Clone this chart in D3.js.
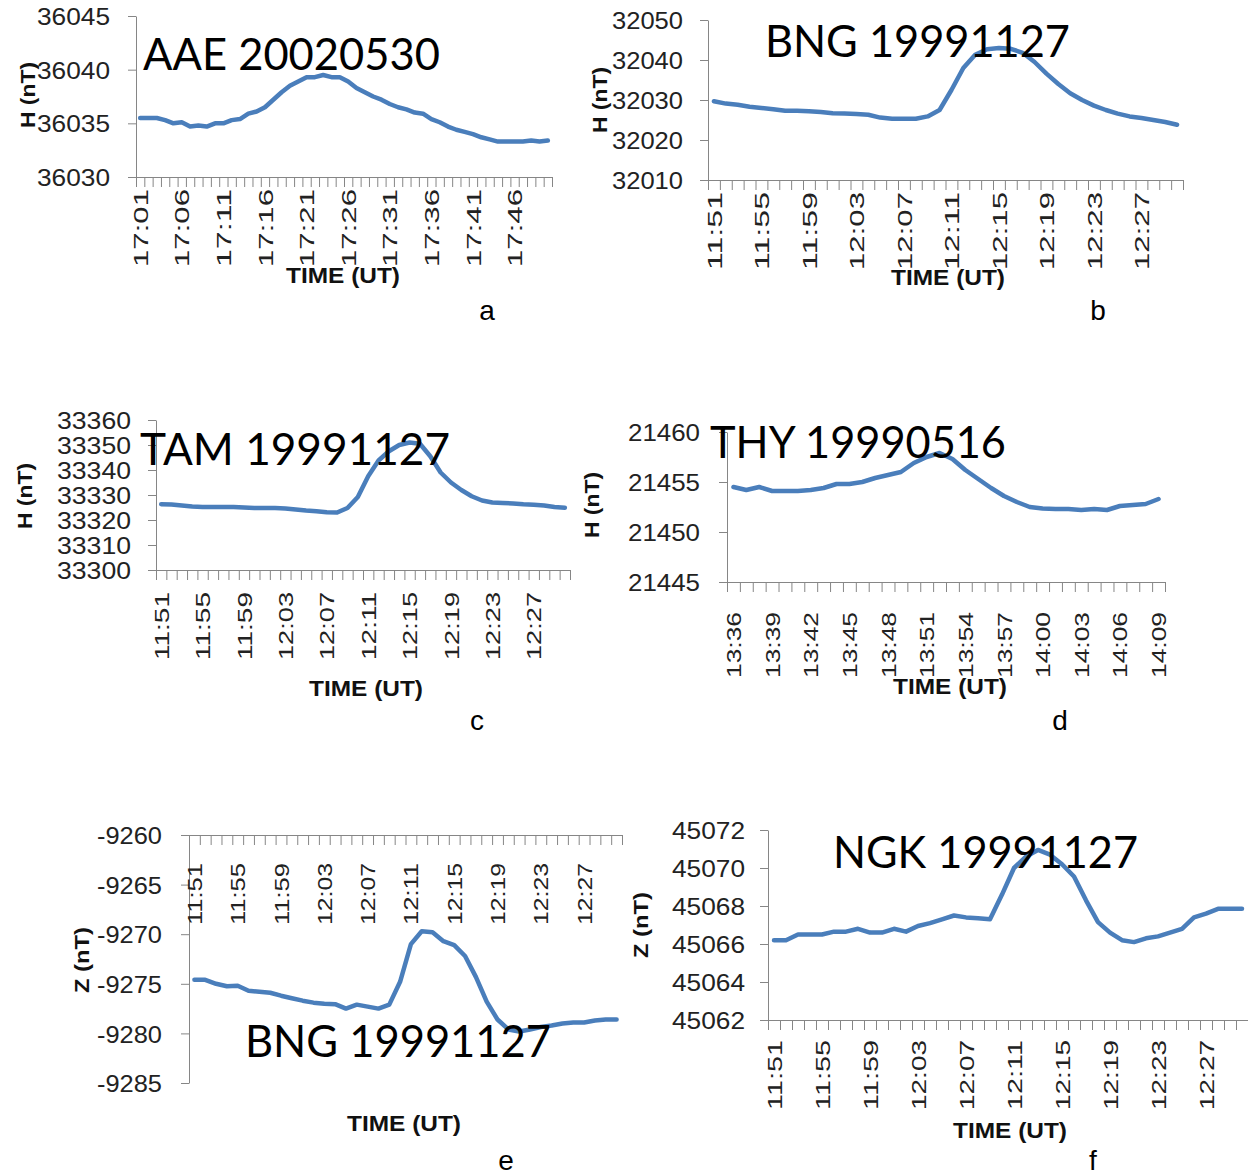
<!DOCTYPE html>
<html>
<head>
<meta charset="utf-8">
<script src="https://cdn.jsdelivr.net/npm/d3@7"></script>
<style>
  body { margin: 0; background: #fff; }
</style>
</head>
<body>
<div id="chart"></div>
<script>
// DATA
const timesA = ["17:01","17:02","17:03","17:04","17:05","17:06","17:07","17:08","17:09","17:10",
  "17:11","17:12","17:13","17:14","17:15","17:16","17:17","17:18","17:19","17:20",
  "17:21","17:22","17:23","17:24","17:25","17:26","17:27","17:28","17:29","17:30",
  "17:31","17:32","17:33","17:34","17:35","17:36","17:37","17:38","17:39","17:40",
  "17:41","17:42","17:43","17:44","17:45","17:46","17:47","17:48","17:49","17:50"];
const times1127 = ["11:51","11:52","11:53","11:54","11:55","11:56","11:57","11:58","11:59","12:00",
  "12:01","12:02","12:03","12:04","12:05","12:06","12:07","12:08","12:09","12:10",
  "12:11","12:12","12:13","12:14","12:15","12:16","12:17","12:18","12:19","12:20",
  "12:21","12:22","12:23","12:24","12:25","12:26","12:27","12:28","12:29","12:30"];
const timesD = ["13:36","13:37","13:38","13:39","13:40","13:41","13:42","13:43","13:44","13:45",
  "13:46","13:47","13:48","13:49","13:50","13:51","13:52","13:53","13:54","13:55",
  "13:56","13:57","13:58","13:59","14:00","14:01","14:02","14:03","14:04","14:05",
  "14:06","14:07","14:08","14:09"];

const valuesA = [36035.5, 36035.5, 36035.5, 36035.3, 36035.0, 36035.1, 36034.7, 36034.8, 36034.7, 36035.0,
  36035.0, 36035.3, 36035.4, 36035.9, 36036.1, 36036.5, 36037.2, 36037.9, 36038.5, 36038.9,
  36039.3, 36039.3, 36039.5, 36039.3, 36039.3, 36038.9, 36038.3, 36037.9, 36037.5, 36037.2,
  36036.8, 36036.5, 36036.3, 36036.0, 36035.9, 36035.4, 36035.1, 36034.7, 36034.4, 36034.2,
  36034.0, 36033.7, 36033.5, 36033.3, 36033.3, 36033.3, 36033.3, 36033.4, 36033.3, 36033.4];
const valuesB = [32029.7, 32029.1, 32028.8, 32028.3, 32028.0, 32027.7, 32027.3, 32027.3, 32027.2, 32027.0,
  32026.7, 32026.6, 32026.5, 32026.3, 32025.6, 32025.3, 32025.3, 32025.3, 32025.9, 32027.5,
  32032.5, 32038.0, 32041.3, 32042.7, 32043.0, 32042.8, 32041.8, 32039.5, 32036.6, 32034.0,
  32031.7, 32030.0, 32028.6, 32027.5, 32026.6, 32025.9, 32025.5, 32025.0, 32024.5, 32023.8];
const valuesC = [33326.3, 33326.2, 33325.8, 33325.4, 33325.2, 33325.2, 33325.2, 33325.2, 33325.0, 33324.8,
  33324.8, 33324.8, 33324.6, 33324.2, 33323.8, 33323.5, 33323.1, 33323.0, 33324.8, 33329.2,
  33337.5, 33343.8, 33347.5, 33350.0, 33351.0, 33350.5, 33345.5, 33339.0, 33335.0, 33332.0,
  33329.5, 33327.8, 33327.0, 33326.8, 33326.6, 33326.3, 33326.1, 33325.8, 33325.2, 33324.9];
const valuesD = [21454.5, 21454.2, 21454.5, 21454.1, 21454.1, 21454.1, 21454.2, 21454.4, 21454.8, 21454.8,
  21455.0, 21455.4, 21455.7, 21456.0, 21456.9, 21457.5, 21457.9, 21457.3, 21456.2, 21455.3,
  21454.4, 21453.6, 21453.0, 21452.5, 21452.35, 21452.3, 21452.3, 21452.2, 21452.3, 21452.2,
  21452.6, 21452.7, 21452.8, 21453.3];
const valuesE = [-9274.6, -9274.6, -9275.0, -9275.25, -9275.2, -9275.7, -9275.8, -9275.9, -9276.2, -9276.45,
  -9276.7, -9276.9, -9277.0, -9277.05, -9277.5, -9277.1, -9277.3, -9277.5, -9277.1, -9274.8,
  -9271.0, -9269.7, -9269.8, -9270.7, -9271.1, -9272.2, -9274.3, -9276.8, -9278.6, -9279.6,
  -9279.8, -9279.6, -9279.35, -9279.2, -9279.0, -9278.9, -9278.9, -9278.7, -9278.6, -9278.6];
const valuesF = [45066.2, 45066.2, 45066.5, 45066.5, 45066.5, 45066.65, 45066.65, 45066.8, 45066.6, 45066.6,
  45066.8, 45066.65, 45066.95, 45067.1, 45067.3, 45067.5, 45067.4, 45067.35, 45067.3, 45068.6,
  45070.0, 45070.6, 45070.95, 45070.7, 45070.2, 45069.55, 45068.3, 45067.15, 45066.6, 45066.2,
  45066.1, 45066.3, 45066.4, 45066.6, 45066.8, 45067.4, 45067.6, 45067.85, 45067.85, 45067.85];

const ticksA = [36030, 36035, 36040, 36045];
const ticksB = [32010, 32020, 32030, 32040, 32050];
const ticksC = [33300, 33310, 33320, 33330, 33340, 33350, 33360];
const ticksD = [21445, 21450, 21455, 21460];
const ticksE = [-9285, -9280, -9275, -9270, -9265, -9260];
const ticksF = [45062, 45064, 45066, 45068, 45070, 45072];

const titles = ["AAE 20020530", "BNG 19991127", "TAM 19991127", "THY 19990516", "BNG 19991127", "NGK 19991127"];
const yTitles = ["H (nT)", "H (nT)", "H (nT)", "H (nT)", "Z (nT)", "Z (nT)"];
const letters = ["a", "b", "c", "d", "e", "f"];

// LAYOUT (pixels)
const panels = [
  {times: timesA, values: valuesA, ticks: ticksA, every: 5,
   x0: 136, x1: 552, top: 16, bottom: 177, axisTop: false, labRight: 110, labLen: 73,
   xlabGap: 12, xlabLen: 78, ytX: 28, ytY: 95, tX: 143, tY: 70, tW: 297,
   timeX: 343, timeY: 283, letX: 487, letY: 320},
  {times: times1127, values: valuesB, ticks: ticksB, every: 4,
   x0: 708, x1: 1183, top: 20, bottom: 180, axisTop: false, labRight: 683, labLen: 71,
   xlabGap: 12, xlabLen: 78, ytX: 600, ytY: 100, tX: 765, tY: 57, tW: 305,
   timeX: 948, timeY: 285, letX: 1098, letY: 320},
  {times: times1127, values: valuesC, ticks: ticksC, every: 4,
   x0: 156, x1: 570, top: 420, bottom: 570, axisTop: false, labRight: 131, labLen: 74,
   xlabGap: 22, xlabLen: 68, ytX: 25, ytY: 496, tX: 140, tY: 465, tW: 310,
   timeX: 366, timeY: 696, letX: 477, letY: 730},
  {times: timesD, values: valuesD, ticks: ticksD, every: 3,
   x0: 727, x1: 1165, top: 432, bottom: 582, axisTop: false, labRight: 700, labLen: 72,
   xlabGap: 30, xlabLen: 66, ytX: 592, ytY: 505, tX: 710, tY: 458, tW: 296,
   timeX: 950, timeY: 694, letX: 1060, letY: 730},
  {times: times1127, values: valuesE, ticks: ticksE, every: 4,
   x0: 189, x1: 622, top: 835, bottom: 1083, axisTop: true, labRight: 162, labLen: 65,
   xlabGap: 28, xlabLen: 62, ytX: 82, ytY: 960, tX: 245, tY: 1057, tW: 306,
   timeX: 404, timeY: 1131, letX: 506, letY: 1170},
  {times: times1127, values: valuesF, ticks: ticksF, every: 4,
   x0: 768, x1: 1248, top: 830, bottom: 1020, axisTop: false, labRight: 745, labLen: 73,
   xlabGap: 20, xlabLen: 70, ytX: 641, ytY: 925, tX: 833, tY: 868, tW: 305,
   timeX: 1010, timeY: 1138, letX: 1093, letY: 1170}
];

const lineColor = "#4a7ebb";
const axisColor = "#868686";
const labelFont = "'Liberation Sans', Arial, sans-serif";
const titleFont = "Lato, 'Open Sans', sans-serif";

const svg = d3.select("#chart").append("svg")
  .attr("width", 1248)
  .attr("height", 1176);

panels.forEach((p, k) => {
  const g = svg.append("g");
  const n = p.times.length;

  const x = d3.scaleBand().domain(p.times).range([p.x0, p.x1]).padding(0);
  const xi = d3.scaleLinear().domain([0, n]).range([p.x0, p.x1]);
  const y = d3.scaleLinear().domain([p.ticks[0], p.ticks[p.ticks.length - 1]]).range([p.bottom, p.top]);
  const axisY = p.axisTop ? p.top : p.bottom;

  // y axis (plain hyphen for negatives, like the original)
  const yAxis = g.append("g")
    .attr("transform", `translate(${p.x0},0)`)
    .call(d3.axisLeft(y).tickValues(p.ticks).tickSize(8).tickSizeOuter(0)
      .tickPadding(p.x0 - p.labRight - 8).tickFormat(d => String(d)));
  yAxis.selectAll("path, line").attr("stroke", axisColor);
  yAxis.selectAll("text")
    .attr("font-family", labelFont)
    .attr("font-size", 24)
    .attr("fill", "#222")
    .attr("dy", "0.36em")
    .attr("textLength", p.labLen)
    .attr("lengthAdjust", "spacingAndGlyphs");

  // x axis tick marks between categories
  const xTicks = g.append("g")
    .attr("transform", `translate(0,${axisY})`)
    .call(d3.axisBottom(xi).tickValues(d3.range(n + 1)).tickSize(10).tickSizeOuter(0).tickFormat(""));
  xTicks.selectAll("path, line").attr("stroke", axisColor);

  // x axis labels (rotated)
  const xLabs = g.append("g")
    .attr("transform", `translate(0,${axisY})`)
    .call(d3.axisBottom(x).tickValues(p.times.filter((d, i) => i % p.every === 0)).tickSize(0));
  xLabs.select(".domain").remove();
  xLabs.selectAll("text")
    .attr("font-family", labelFont)
    .attr("font-size", 21)
    .attr("fill", "#222")
    .attr("transform", "rotate(-90)")
    .attr("text-anchor", "end")
    .attr("x", -p.xlabGap)
    .attr("y", 0)
    .attr("dy", "0.36em")
    .attr("textLength", p.xlabLen)
    .attr("lengthAdjust", "spacingAndGlyphs");

  // series line
  const line = d3.line()
    .x((d, i) => x(p.times[i]) + x.bandwidth() / 2)
    .y(d => y(d));
  g.append("path")
    .datum(p.values)
    .attr("d", line)
    .attr("fill", "none")
    .attr("stroke", lineColor)
    .attr("stroke-width", 4.5)
    .attr("stroke-linejoin", "round")
    .attr("stroke-linecap", "round");

  // station title
  g.append("text")
    .attr("x", p.tX)
    .attr("y", p.tY)
    .attr("font-family", titleFont)
    .attr("font-size", 44)
    .attr("fill", "#000")
    .attr("textLength", p.tW)
    .attr("lengthAdjust", "spacingAndGlyphs")
    .text(titles[k]);

  // y axis title
  g.append("text")
    .attr("transform", `translate(${p.ytX},${p.ytY}) rotate(-90)`)
    .attr("text-anchor", "middle")
    .attr("dy", "0.36em")
    .attr("font-family", labelFont)
    .attr("font-weight", "bold")
    .attr("font-size", 20)
    .attr("fill", "#111")
    .attr("textLength", 66)
    .attr("lengthAdjust", "spacingAndGlyphs")
    .text(yTitles[k]);

  // x axis title
  g.append("text")
    .attr("x", p.timeX - 57)
    .attr("y", p.timeY)
    .attr("font-family", labelFont)
    .attr("font-weight", "bold")
    .attr("font-size", 22)
    .attr("fill", "#111")
    .attr("textLength", 114)
    .attr("lengthAdjust", "spacingAndGlyphs")
    .text("TIME (UT)");

  // panel letter
  g.append("text")
    .attr("x", p.letX)
    .attr("y", p.letY)
    .attr("text-anchor", "middle")
    .attr("font-family", labelFont)
    .attr("font-size", 28)
    .attr("fill", "#000")
    .text(letters[k]);
});
</script>
</body>
</html>
